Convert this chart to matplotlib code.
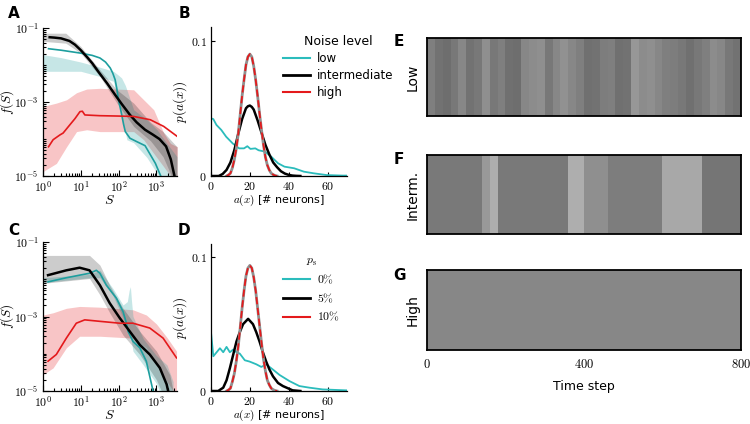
import numpy as np
import matplotlib
matplotlib.use('Agg')
import matplotlib.pyplot as plt
from matplotlib.ticker import FixedLocator, LogLocator, NullFormatter, FuncFormatter
from matplotlib.lines import Line2D

plt.rcParams['mathtext.fontset'] = 'cm'
plt.rcParams['font.family'] = 'DejaVu Sans'

# ---------- panel A: avalanche size distributions (log10 f values) ----------
a_low_S = [1.4, 3, 10, 20, 32, 45, 60, 70, 81, 90, 99, 110, 121, 135, 150, 200, 300, 500, 940, 1300]
a_low_logf = [-1.56, -1.60, -1.68, -1.74, -1.81, -1.92, -2.08, -2.22, -2.40, -2.65, -2.94, -3.15,
              -3.35, -3.60, -3.80, -3.98, -4.07, -4.18, -4.66, -5.0]
a_mid_S = [1.5, 2, 3, 5, 7, 10, 15, 20, 30, 50, 80, 120, 200, 300, 500, 800, 1200, 1800, 2400, 3000]
a_mid_logf = [-1.25, -1.26, -1.28, -1.35, -1.45, -1.60, -1.80, -1.95, -2.20, -2.50, -2.80, -3.05,
              -3.35, -3.55, -3.75, -3.88, -4.0, -4.2, -4.55, -5.0]
a_high_S = [1.4, 1.85, 2.8, 3.4, 5.1, 7, 9.5, 11, 12.8, 20, 32, 100, 250, 690, 1560, 3550]
a_high_logf = [-4.21, -4.02, -3.89, -3.84, -3.62, -3.45, -3.26, -3.25, -3.35, -3.36, -3.37, -3.38,
               -3.39, -3.48, -3.66, -3.93]

a_low_band_S = [1, 3, 10, 32, 73, 100, 120, 150, 165, 250, 560, 1040, 1900, 3500]
a_low_band_hi = [-1.72, -1.80, -1.92, -2.06, -2.17, -2.28, -2.35, -2.55, -2.67, -3.21, -3.48, -3.75, -4.12, -4.48]
a_low_band_lo = [-2.17, -2.17, -2.17, -2.31, -2.44, -3.00, -3.40, -3.80, -4.02, -4.10, -4.50, -4.93, -5.30, -5.5]
a_mid_band_S = [1, 4, 10, 32, 90, 250, 700, 1500, 2500, 3500]
a_mid_band_hi = [-1.14, -1.14, -1.50, -2.13, -2.67, -3.03, -3.55, -3.80, -4.05, -4.21]
a_mid_band_lo = [-1.36, -1.41, -1.68, -2.31, -3.03, -3.66, -4.05, -4.48, -5.0, -5.5]
a_high_band_S = [1, 2.26, 4.2, 7.7, 14.3, 32, 250, 460, 850, 1560, 2350, 3550]
a_high_band_hi = [-3.12, -3.03, -2.94, -2.75, -2.65, -2.63, -2.67, -2.94, -3.21, -3.84, -4.12, -4.21]
a_high_band_lo = [-4.88, -4.66, -4.21, -3.80, -3.75, -3.80, -3.80, -4.02, -4.39, -4.75, -5.0, -5.3]

# ---------- panel C ----------
c_low_S = [1.36, 4.15, 9.3, 17, 25.8, 32, 47.5, 87.5, 131, 161, 178, 240, 363, 540, 815]
c_low_logf = [-2.07, -1.96, -1.89, -1.84, -1.76, -1.84, -2.16, -2.51, -2.87, -3.18, -3.40, -3.67,
              -3.84, -4.20, -5.0]
c_mid_S = [1.36, 4.15, 9.3, 17, 32, 58, 107, 197, 363, 667, 1230, 1860, 2040]
c_mid_logf = [-1.89, -1.76, -1.69, -1.76, -2.16, -2.64, -3.04, -3.40, -3.76, -4.02, -4.38, -4.82, -5.0]
c_high_S = [1.36, 2.25, 4.15, 7.6, 12.7, 32, 107, 240, 667, 1500, 3400]
c_high_logf = [-4.20, -4.02, -3.58, -3.18, -3.09, -3.13, -3.18, -3.18, -3.31, -3.58, -4.11]

c_low_band_S = [1, 17, 32, 71, 131, 170, 190, 205, 220, 240, 450, 1000, 1900, 2760]
c_low_band_hi = [-1.96, -1.87, -1.76, -2.25, -2.69, -2.60, -2.30, -2.20, -2.60, -3.0, -3.6, -4.05, -4.3, -4.75]
c_low_band_lo = [-2.09, -1.96, -1.96, -2.44, -3.04, -3.35, -3.45, -3.5, -3.7, -3.93, -4.3, -4.8, -5.5, -5.5]
c_mid_band_S = [1, 17, 32, 58, 131, 363, 1000, 2250, 2760]
c_mid_band_hi = [-1.36, -1.36, -1.62, -2.16, -2.78, -3.40, -3.93, -4.56, -5.0]
c_mid_band_lo = [-2.11, -1.98, -2.42, -2.90, -3.50, -4.02, -4.70, -5.5, -5.5]
c_high_band_S = [1, 1.85, 4.15, 9.3, 32, 240, 540, 1000, 1860, 2760, 3400]
c_high_band_hi = [-2.96, -2.90, -2.78, -2.73, -2.75, -2.82, -2.96, -3.20, -3.55, -3.80, -3.93]
c_high_band_lo = [-4.56, -4.38, -3.84, -3.53, -3.53, -3.58, -3.84, -4.29, -4.73, -5.0, -5.3]

# ---------- panel B: activity distributions ----------
b_low_x = [0, 1.2, 2.8, 5.3, 7.8, 11.2, 14.5, 17, 18.7, 20.3, 22.8, 24.5, 27.8, 31.2, 34.5, 37.8,
           42.8, 47.8, 52.8, 59.5, 67.8, 70]
b_low_y = [0.0426, 0.042, 0.0377, 0.034, 0.029, 0.024, 0.0204, 0.0204, 0.022, 0.020, 0.0204, 0.019,
           0.018, 0.014, 0.0094, 0.0069, 0.0057, 0.0032, 0.002, 0.0007, 0.0003, 0.0003]
b_mid_x = [0, 4, 6, 8, 10, 12, 14, 16, 18, 19, 20, 21, 22, 24, 26, 28, 30, 32, 34, 36, 38, 40, 42, 44, 46]
b_mid_y = [0, 0, 0.0015, 0.0045, 0.010, 0.019, 0.031, 0.042, 0.050, 0.0515, 0.052, 0.051, 0.049,
           0.041, 0.032, 0.023, 0.016, 0.010, 0.0065, 0.0035, 0.0018, 0.0008, 0.0003, 0.0001, 0]
b_high_x = [8, 9, 10, 11, 12, 13, 14, 15, 16, 17, 18, 19, 20, 21, 22, 23, 24, 25, 26, 27, 28, 29,
            30, 31, 32, 33, 34]
b_high_y = [0, 0.0008, 0.002, 0.006, 0.012, 0.020, 0.031, 0.045, 0.059, 0.071, 0.082, 0.088, 0.090,
            0.088, 0.081, 0.071, 0.059, 0.046, 0.034, 0.023, 0.014, 0.008, 0.0044, 0.002, 0.001,
            0.0003, 0]

# ---------- panel D ----------
d_low_x = [0, 1.2, 2.9, 4.6, 6.3, 8.0, 9.7, 11.4, 13.1, 14.8, 17.4, 19.9, 23.3, 25.9, 28.4, 31.9,
           35.3, 40.4, 45.5, 50.6, 57.4, 69.3, 70]
d_low_y = [0.044, 0.026, 0.029, 0.032, 0.029, 0.033, 0.029, 0.031, 0.029, 0.028, 0.023, 0.022, 0.020,
           0.018, 0.020, 0.016, 0.012, 0.0074, 0.0037, 0.0025, 0.0012, 0.0005, 0.0005]
d_mid_x = [0, 3.7, 6.3, 8, 9.7, 11.4, 13.1, 14.8, 16.5, 19.1, 21.6, 23.3, 25, 26.7, 28.4, 30.1,
           31.9, 34.5, 37, 42, 46]
d_mid_y = [0, 0, 0.0025, 0.008, 0.017, 0.027, 0.037, 0.044, 0.050, 0.054, 0.050, 0.044, 0.037,
           0.029, 0.022, 0.016, 0.011, 0.006, 0.0037, 0.0005, 0]
d_high_x = [8, 9, 10, 11, 12, 13, 14, 15, 16, 17, 18, 19, 20, 21, 22, 23, 24, 25, 26, 27, 28, 29,
            30, 31, 32, 33, 34]
d_high_y = [0, 0.0008, 0.002, 0.007, 0.013, 0.022, 0.033, 0.047, 0.062, 0.075, 0.086, 0.092, 0.094,
            0.092, 0.085, 0.075, 0.062, 0.049, 0.036, 0.024, 0.015, 0.008, 0.0046, 0.002, 0.001,
            0.0003, 0]

noise_labels = ['low', 'intermediate', 'high']
ps_labels = [r'$0\%$', r'$5\%$', r'$10\%$']

# ---------- rasters: spike density per 20-step bin (0..800) ----------
raster_E = [0.50, 0.55, 0.57, 0.53, 0.47, 0.55, 0.53, 0.44, 0.53, 0.50, 0.56, 0.57, 0.47, 0.45,
            0.44, 0.53, 0.47, 0.43, 0.47, 0.50, 0.56, 0.55, 0.51, 0.50, 0.56, 0.55, 0.41, 0.45,
            0.44, 0.47, 0.50, 0.51, 0.53, 0.56, 0.53, 0.50, 0.45, 0.47, 0.53, 0.55]
raster_F = [0.52, 0.52, 0.52, 0.52, 0.52, 0.52, 0.52, 0.40, 0.32, 0.52, 0.52, 0.52, 0.52, 0.52,
            0.52, 0.52, 0.52, 0.52, 0.32, 0.32, 0.44, 0.44, 0.44, 0.51, 0.51, 0.51, 0.51, 0.51,
            0.51, 0.51, 0.34, 0.34, 0.34, 0.34, 0.34, 0.54, 0.54, 0.54, 0.54, 0.54]
raster_G = [0.47] * 40
raster_names = ['Low', 'Interm.', 'High']
time_ticks = [0, 400, 800]

TEAL = '#1d9e9e'
CYAN = '#2bbcbc'
RED = '#e41a1c'

fig = plt.figure(figsize=(7.5, 4.24), dpi=100)


def pw(x):
    return 10 ** np.asarray(x)


def log_panel(ax, low, mid, high, bands):
    (lS, lhi, llo), (mS, mhi, mlo), (hS, hhi, hlo) = bands
    ax.fill_between(hS, pw(hlo), pw(hhi), color=RED, alpha=0.25, lw=0)
    ax.fill_between(lS, pw(llo), pw(lhi), color=TEAL, alpha=0.25, lw=0)
    ax.fill_between(mS, pw(mlo), pw(mhi), color='k', alpha=0.2, lw=0)
    ax.plot(low[0], pw(low[1]), color=TEAL, lw=1.2)
    ax.plot(mid[0], pw(mid[1]), color='k', lw=1.8)
    ax.plot(high[0], pw(high[1]), color=RED, lw=1.2)
    ax.set_xscale('log')
    ax.set_yscale('log')
    ax.set_xlim(1, 3500)
    ax.set_ylim(1e-5, 1e-1)
    ax.xaxis.set_major_locator(FixedLocator([1, 10, 100, 1000]))
    ax.yaxis.set_major_locator(FixedLocator([1e-5, 1e-3, 1e-1]))
    ax.xaxis.set_minor_locator(LogLocator(10, subs=np.arange(2, 10), numticks=20))
    ax.yaxis.set_minor_locator(LogLocator(10, subs=np.arange(1, 10), numticks=20))
    fmt = FuncFormatter(lambda v, p: r'$10^{%d}$' % round(np.log10(v)))
    ax.xaxis.set_major_formatter(fmt)
    ax.yaxis.set_major_formatter(fmt)
    ax.xaxis.set_minor_formatter(NullFormatter())
    ax.yaxis.set_minor_formatter(NullFormatter())
    ax.tick_params(which='both', direction='in', labelsize=8.5, pad=3, width=0.8)
    ax.tick_params(which='major', length=4)
    ax.tick_params(which='minor', length=2)
    for s in ['top', 'right']:
        ax.spines[s].set_visible(False)
    for s in ['left', 'bottom']:
        ax.spines[s].set_linewidth(0.9)
    ax.set_xlabel(r'$S$', fontsize=10, labelpad=-1.5)
    ax.set_ylabel(r'$f(S)$', fontsize=9.5, labelpad=-1.5)


def dist_panel(ax, low, mid, high):
    ax.plot(low[0], low[1], color=CYAN, lw=1.3)
    ax.plot(mid[0], mid[1], color='k', lw=1.8)
    ax.plot(high[0], high[1], color='#909090', lw=2.0)
    ax.plot(high[0], high[1], color=RED, lw=1.3, dashes=(4, 2))
    ax.set_xlim(0, 70)
    ax.set_ylim(0, 0.11)
    ax.set_xticks([0, 20, 40, 60])
    ax.set_yticks([0, 0.1])
    ax.xaxis.set_major_formatter(FuncFormatter(lambda v, p: r'$%d$' % v))
    ax.yaxis.set_major_formatter(FuncFormatter(lambda v, p: r'$0$' if v == 0 else r'$%.1f$' % v))
    ax.tick_params(direction='in', labelsize=8.5, length=3, pad=3, width=0.8)
    for s in ['top', 'right']:
        ax.spines[s].set_visible(False)
    for s in ['left', 'bottom']:
        ax.spines[s].set_linewidth(0.9)
    ax.set_xlabel(r'$a(x)$ [# neurons]', fontsize=8, labelpad=-0.5)
    ax.set_ylabel(r'$p(a(x))$', fontsize=9.5, labelpad=1)


axA = fig.add_axes([43 / 750, 1 - 176 / 424, 134 / 750, 148 / 424])
log_panel(axA, (a_low_S, a_low_logf), (a_mid_S, a_mid_logf), (a_high_S, a_high_logf),
          [(a_low_band_S, a_low_band_hi, a_low_band_lo),
           (a_mid_band_S, a_mid_band_hi, a_mid_band_lo),
           (a_high_band_S, a_high_band_hi, a_high_band_lo)])

axC = fig.add_axes([43 / 750, 1 - 391 / 424, 134 / 750, 149 / 424])
log_panel(axC, (c_low_S, c_low_logf), (c_mid_S, c_mid_logf), (c_high_S, c_high_logf),
          [(c_low_band_S, c_low_band_hi, c_low_band_lo),
           (c_mid_band_S, c_mid_band_hi, c_mid_band_lo),
           (c_high_band_S, c_high_band_hi, c_high_band_lo)])

axB = fig.add_axes([211 / 750, 1 - 176 / 424, 136 / 750, 149 / 424])
dist_panel(axB, (b_low_x, b_low_y), (b_mid_x, b_mid_y), (b_high_x, b_high_y))

axD = fig.add_axes([211 / 750, 1 - 391 / 424, 136 / 750, 147 / 424])
dist_panel(axD, (d_low_x, d_low_y), (d_mid_x, d_mid_y), (d_high_x, d_high_y))

handles = [Line2D([], [], color=CYAN, lw=1.5), Line2D([], [], color='k', lw=2),
           Line2D([], [], color=RED, lw=1.5)]
legB = axB.legend(handles, noise_labels, title='Noise level', loc='upper left',
                  bbox_to_anchor=(283 / 750, 1 - 35 / 424), bbox_transform=fig.transFigure,
                  frameon=False, fontsize=8.5, title_fontsize=9, handlelength=2.3,
                  handletextpad=0.6, labelspacing=0.35, borderaxespad=0, borderpad=0)
legD = axD.legend(handles, ps_labels, title=r'$p_\mathrm{s}$', loc='upper left',
                  bbox_to_anchor=(283 / 750, 1 - 254 / 424), bbox_transform=fig.transFigure,
                  frameon=False, fontsize=8.5, title_fontsize=8.5, handlelength=2.3,
                  handletextpad=0.6, labelspacing=0.45, borderaxespad=0, borderpad=0)

# ---------- rasters ----------
raster_boxes = [(1 - 116 / 424, 78 / 424), (1 - 234 / 424, 79 / 424), (1 - 350 / 424, 80 / 424)]
for dens, name, (bot, h) in zip([raster_E, raster_F, raster_G], raster_names, raster_boxes):
    ax = fig.add_axes([427 / 750, bot, 314 / 750, h])
    ax.imshow(np.array(dens)[np.newaxis, :], aspect='auto', cmap='gray_r', vmin=0, vmax=1,
              extent=[0, 800, 0, 1], interpolation='nearest')
    ax.set_xlim(0, 800)
    ax.set_yticks([])
    ax.set_ylabel(name, fontsize=10, labelpad=5)
    for s in ax.spines.values():
        s.set_linewidth(1.3)
    if name == 'High':
        ax.set_xticks(time_ticks)
        ax.xaxis.set_major_formatter(FuncFormatter(lambda v, p: r'$%d$' % v))
        ax.tick_params(axis='x', length=0, pad=6, labelsize=9)
        ax.set_xlabel('Time step', fontsize=9, labelpad=6)
    else:
        ax.set_xticks([])

# ---------- panel letters ----------
for letter, x, y in [('A', 14, 14), ('B', 184, 14), ('C', 14, 230), ('D', 184, 230),
                     ('E', 399, 42), ('F', 399, 160), ('G', 399, 276)]:
    fig.text(x / 750, 1 - y / 424, letter, fontsize=11, fontweight='bold', ha='center', va='center')

fig.savefig('out.png', dpi=100)
